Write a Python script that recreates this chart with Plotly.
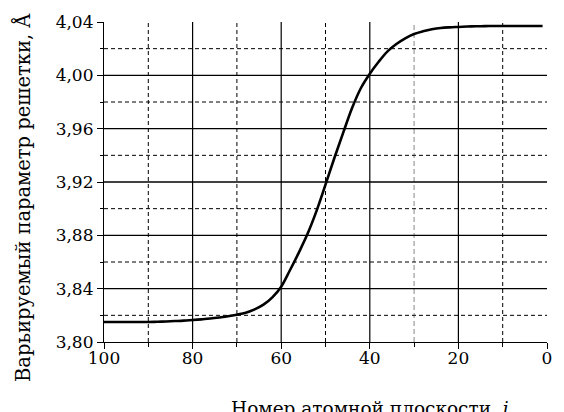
import plotly.graph_objects as go

# Data
plane_index = [100, 98, 96, 94, 92, 90, 88, 86, 84, 82, 80, 78, 76, 74, 72, 70, 68, 66, 64,
               62, 60, 58, 56, 54, 52, 50, 48, 46, 44, 42, 40, 38, 36, 34, 32, 30, 28, 26,
               24, 22, 20, 18, 16, 14, 12, 10, 8, 6, 4, 2, 1]
lattice_param = [3.815, 3.815, 3.815, 3.815, 3.815, 3.815, 3.8152, 3.8154, 3.8157, 3.816,
                 3.8165, 3.817, 3.8176, 3.8184, 3.8193, 3.8205, 3.822, 3.8245, 3.828,
                 3.8335, 3.8415, 3.854, 3.8672, 3.8815, 3.8985, 3.918, 3.938, 3.957, 3.9755,
                 3.9905, 4.0012, 4.0102, 4.018, 4.0235, 4.0278, 4.031, 4.033, 4.0345,
                 4.0355, 4.036, 4.0363, 4.0366, 4.0368, 4.0369, 4.037, 4.037, 4.037,
                 4.037, 4.037, 4.037, 4.037]

x_ticks = [100, 80, 60, 40, 20, 0]
x_tick_labels = ["100", "80", "60", "40", "20", "0"]
y_ticks = [3.80, 3.84, 3.88, 3.92, 3.96, 4.00, 4.04]
y_tick_labels = ["3,80", "3,84", "3,88", "3,92", "3,96", "4,00", "4,04"]

x_grid_solid = [80, 60, 40, 20]
x_grid_dashed = [90, 70, 50, 10]
x_grid_gray = [30]
y_grid_solid = [3.84, 3.88, 3.92, 3.96, 4.00]
y_grid_dashed = [3.82, 3.86, 3.90, 3.94, 3.98, 4.02]

X_RANGE = [100, 0]
Y_RANGE = [3.80, 4.04]

font_family = "DejaVu Serif"

fig = go.Figure()
fig.add_trace(go.Scatter(
    x=plane_index, y=lattice_param, mode="lines",
    line=dict(color="black", width=2.6, shape="spline", smoothing=1.0),
    showlegend=False, hoverinfo="skip",
))

shapes = []
for xv in x_grid_solid:
    shapes.append(dict(type="line", xref="x", yref="y", x0=xv, x1=xv, y0=Y_RANGE[0], y1=Y_RANGE[1],
                       line=dict(color="black", width=1.2), layer="below"))
for xv in x_grid_dashed:
    shapes.append(dict(type="line", xref="x", yref="y", x0=xv, x1=xv, y0=Y_RANGE[0], y1=Y_RANGE[1],
                       line=dict(color="black", width=1, dash="4px,3px"), layer="below"))
for xv in x_grid_gray:
    shapes.append(dict(type="line", xref="x", yref="y", x0=xv, x1=xv, y0=Y_RANGE[0], y1=Y_RANGE[1],
                       line=dict(color="#9a9a9a", width=1.2, dash="5px,3px"), layer="below"))
for yv in y_grid_solid:
    shapes.append(dict(type="line", xref="x", yref="y", x0=X_RANGE[0], x1=X_RANGE[1], y0=yv, y1=yv,
                       line=dict(color="black", width=1.3), layer="below"))
for yv in y_grid_dashed:
    shapes.append(dict(type="line", xref="x", yref="y", x0=X_RANGE[0], x1=X_RANGE[1], y0=yv, y1=yv,
                       line=dict(color="black", width=1, dash="4px,3px"), layer="below"))

fig.update_layout(
    width=564, height=412,
    margin=dict(l=104, r=17, t=16, b=70),
    paper_bgcolor="white", plot_bgcolor="white",
    font=dict(family=font_family, size=17, color="black"),
    shapes=shapes,
    showlegend=False,
    annotations=[
        dict(text="Номер атомной плоскости, <i>i</i>", xref="paper", yref="paper",
             x=0.60, y=-0.17, xanchor="center", yanchor="top", showarrow=False,
             font=dict(family=font_family, size=18.5, color="black")),
        dict(text="Варьируемый параметр решетки, Å", xref="paper", yref="paper",
             x=-0.185, y=0.45, xanchor="center", yanchor="middle", textangle=-90, showarrow=False,
             font=dict(family=font_family, size=19.5, color="black")),
    ],
)

fig.update_xaxes(
    range=X_RANGE, showgrid=False, zeroline=False,
    showline=True, linecolor="black", linewidth=1.2,
    tickmode="array", tickvals=x_ticks, ticktext=x_tick_labels,
    ticks="outside", ticklen=6, tickwidth=1.2, tickcolor="black",
    ticklabelstandoff=-6,
    minor=dict(dtick=10, ticks="outside", ticklen=4, tickwidth=1, tickcolor="black", showgrid=False),
)
fig.update_yaxes(
    range=Y_RANGE, showgrid=False, zeroline=False,
    showline=True, linecolor="black", linewidth=1.2,
    tickmode="array", tickvals=y_ticks, ticktext=y_tick_labels,
    ticks="outside", ticklen=6, tickwidth=1.2, tickcolor="black",
    minor=dict(dtick=0.02, tick0=3.80, ticks="outside", ticklen=3, tickwidth=1, tickcolor="black", showgrid=False),
)

fig.write_html("out.html")
